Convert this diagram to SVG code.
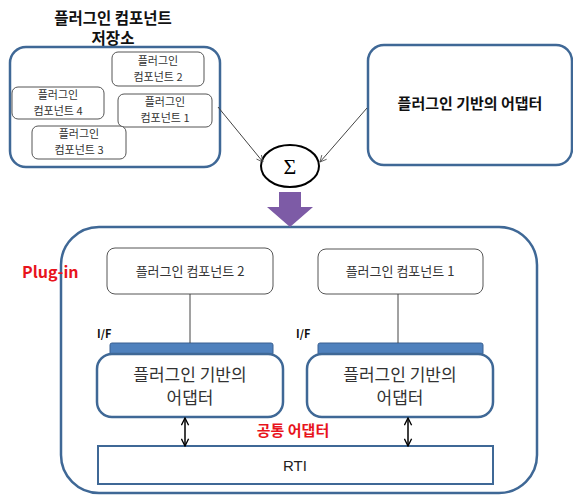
<svg xmlns="http://www.w3.org/2000/svg" width="573" height="495" viewBox="0 0 573 495">
<defs>
<style>
.k{font-family:"Malgun Gothic","Noto Sans CJK KR","Liberation Sans",sans-serif;}
.big{fill:#fff;stroke:#3f6896;stroke-width:2.5;}
.sm{fill:#fff;stroke:#555;stroke-width:1;}
.t12{font-size:11px;fill:#333;text-anchor:middle;}
.t16{font-size:17px;fill:#333;text-anchor:middle;}
.bold{font-weight:bold;fill:#111;}
.red{fill:#e8141c;font-weight:bold;}
.bar{fill:#4f81bd;stroke:#3a6192;stroke-width:1;}
.ln{stroke:#444;stroke-width:1;fill:none;}
.ar{stroke:#000;stroke-width:1.5;fill:none;}
</style>
<marker id="thin" viewBox="0 0 10 10" refX="9" refY="5" markerWidth="8" markerHeight="8" orient="auto"><path d="M1,1 L9,5 L1,9" fill="none" stroke="#444" stroke-width="1"/></marker>
<marker id="bi" viewBox="0 0 10 10" refX="9" refY="5" markerWidth="6" markerHeight="6" orient="auto-start-reverse"><path d="M1,1 L9,5 L1,9" fill="none" stroke="#000" stroke-width="1.5"/></marker>
</defs>
<rect width="573" height="495" fill="#fff"/>

<g id="repository">
<text class="k bold" x="113" y="24" font-size="15.5" text-anchor="middle">플러그인 컴포넌트</text>
<text class="k bold" x="113" y="44" font-size="15.5" text-anchor="middle">저장소</text>
<rect class="big" x="10" y="47" width="210" height="120" rx="16"/>
</g>
<g id="comp2-top"><rect class="sm" x="112" y="52" width="92" height="34" rx="6"/>
<text class="k t12" x="158" y="65">플러그인</text><text class="k t12" x="158" y="81">컴포넌트 2</text></g>
<g id="comp4-top"><rect class="sm" x="12" y="87" width="92" height="32" rx="6"/>
<text class="k t12" x="58" y="99">플러그인</text><text class="k t12" x="58" y="115">컴포넌트 4</text></g>
<g id="comp1-top"><rect class="sm" x="118" y="94" width="94" height="33" rx="6"/>
<text class="k t12" x="165" y="106">플러그인</text><text class="k t12" x="165" y="122">컴포넌트 1</text></g>
<g id="comp3-top"><rect class="sm" x="32" y="126" width="94" height="33" rx="6"/>
<text class="k t12" x="79" y="138">플러그인</text><text class="k t12" x="79" y="154">컴포넌트 3</text></g>

<g id="adapter-top">
<rect class="big" x="368" y="45" width="204" height="120" rx="16"/>
<text class="k bold" x="470" y="109" font-size="15" text-anchor="middle">플러그인 기반의 어댑터</text>
</g>

<g id="sigma">
<ellipse cx="290" cy="166" rx="29" ry="21" fill="#fff" stroke="#000" stroke-width="2"/>
<text x="290" y="174" font-family="'Liberation Serif',serif" font-size="22" text-anchor="middle">Σ</text>
</g>

<g id="plugin">
<rect class="big" x="61" y="227" width="476" height="266" rx="38"/>
<text class="k red" x="22" y="278" font-size="16">Plug-in</text>
</g>
<g id="comp2"><rect class="sm" x="107" y="248" width="166" height="46" rx="8"/>
<text class="k" x="190" y="276" font-size="13" fill="#333" text-anchor="middle">플러그인 컴포넌트 2</text></g>
<g id="comp1"><rect class="sm" x="318" y="249" width="165" height="45" rx="8"/>
<text class="k" x="400" y="276" font-size="13" fill="#333" text-anchor="middle">플러그인 컴포넌트 1</text></g>

<g id="adapter2">
<text class="k" x="97" y="338" font-size="11" font-weight="bold" fill="#111">I/F</text>
<rect class="bar" x="110" y="343" width="163" height="12" rx="2"/>
<rect class="big" x="97" y="354" width="186" height="63" rx="15" stroke-width="2"/>
<text class="k t16" x="190" y="381">플러그인 기반의</text>
<text class="k t16" x="190" y="404">어댑터</text>
</g>
<g id="adapter1">
<text class="k" x="296" y="338" font-size="11" font-weight="bold" fill="#111">I/F</text>
<rect class="bar" x="318" y="343" width="165" height="12" rx="2"/>
<rect class="big" x="307" y="354" width="186" height="63" rx="15" stroke-width="2"/>
<text class="k t16" x="400" y="381">플러그인 기반의</text>
<text class="k t16" x="400" y="404">어댑터</text>
</g>
<g id="common"><text class="k red" x="293" y="436" font-size="15" text-anchor="middle">공통 어댑터</text></g>
<g id="rti">
<rect x="98" y="446" width="395" height="38" fill="#fff" stroke="#3f6896" stroke-width="2"/>
<text x="295" y="471" font-family="'Liberation Sans',sans-serif" font-size="15" fill="#222" text-anchor="middle">RTI</text>
</g>

<g id="connectors">
<line class="ln" x1="218" y1="107" x2="263" y2="162" marker-end="url(#thin)"/>
<line class="ln" x1="367" y1="108" x2="320" y2="162" marker-end="url(#thin)"/>
<path d="M279,192 H301 V207 H313 L290,227 L267,207 H279 Z" fill="#7d5ba6"/>
<line class="ln" x1="190" y1="294" x2="190" y2="343"/>
<line class="ln" x1="398" y1="294" x2="398" y2="343"/>
<line class="ar" x1="185" y1="418" x2="185" y2="446" marker-start="url(#bi)" marker-end="url(#bi)"/>
<line class="ar" x1="408" y1="418" x2="408" y2="446" marker-start="url(#bi)" marker-end="url(#bi)"/>
</g>
</svg>
